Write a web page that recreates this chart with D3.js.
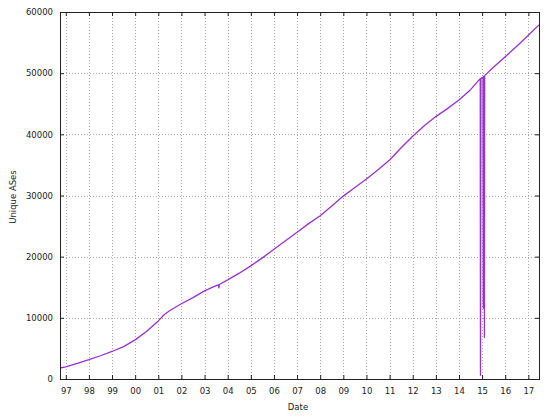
<!DOCTYPE html>
<html>
<head>
<meta charset="utf-8">
<script src="https://cdn.jsdelivr.net/npm/d3@7"></script>
<style>
  body { margin: 0; background: #fff; }
  text { font-family: "DejaVu Sans", sans-serif; font-size: 8.5px; fill: #222; }
</style>
</head>
<body>
<script>
// decimal year / unique ASes
const dates = [1996.75, 1997.0, 1997.5, 1998.0, 1998.5, 1999.0, 1999.5, 2000.0, 2000.5, 2001.0,
  2001.25, 2001.5, 2002.0, 2002.5, 2003.0, 2003.4, 2003.6, 2003.62, 2003.64, 2004.0,
  2004.5, 2005.0, 2005.5, 2006.0, 2006.5, 2007.0, 2007.5, 2008.0, 2008.5, 2009.0,
  2009.5, 2010.0, 2010.5, 2011.0, 2011.5, 2012.0, 2012.5, 2013.0, 2013.5, 2014.0,
  2014.5, 2014.92, 2014.93, 2014.95, 2015.04, 2015.05, 2015.06, 2015.09, 2015.1, 2015.11,
  2015.5, 2016.0, 2016.5, 2017.0, 2017.46]
const ases = [1800, 2000, 2550, 3150, 3800, 4500, 5300, 6400, 7800, 9500,
  10500, 11200, 12300, 13300, 14400, 15100, 15400, 14900, 15450, 16200,
  17300, 18500, 19800, 21200, 22600, 24000, 25400, 26700, 28300, 29900,
  31300, 32700, 34200, 35800, 37800, 39700, 41400, 42900, 44200, 45600,
  47300, 49100, 600, 49150, 49350, 11600, 49400, 49500, 6800, 49600,
  51000, 52700, 54400, 56200, 57900]

const yearTicks = d3.range(1997, 2018)
const yTicks = [0, 10000, 20000, 30000, 40000, 50000, 60000]

const width = 550, height = 419
const margin = {top: 12, right: 11, bottom: 40, left: 60}
const lineColor = "#9632d2"

const svg = d3.select("body").append("svg")
    .attr("width", width)
    .attr("height", height)

const x = d3.scaleLinear()
    .domain([1996.75, 2017.46])
    .range([margin.left, width - margin.right])

const y = d3.scaleLinear()
    .domain([0, 60000])
    .range([height - margin.bottom, margin.top])

// grid
svg.append("g")
    .attr("stroke", "#a8a8a8")
    .attr("stroke-dasharray", "1,2")
    .selectAll("line")
    .data(yearTicks)
    .join("line")
    .attr("x1", d => Math.round(x(d)) + 0.5)
    .attr("x2", d => Math.round(x(d)) + 0.5)
    .attr("y1", y(0))
    .attr("y2", y(60000))

svg.append("g")
    .attr("stroke", "#a8a8a8")
    .attr("stroke-dasharray", "1,2")
    .selectAll("line")
    .data(yTicks.slice(1, -1))
    .join("line")
    .attr("x1", x.range()[0])
    .attr("x2", x.range()[1])
    .attr("y1", d => Math.round(y(d)) + 0.5)
    .attr("y2", d => Math.round(y(d)) + 0.5)

// data line
const pts = dates.map((d, i) => [d, ases[i]])
svg.append("path")
    .datum(pts)
    .attr("fill", "none")
    .attr("stroke", lineColor)
    .attr("stroke-width", 1.3)
    .attr("stroke-linejoin", "round")
    .attr("d", d3.line().x(d => x(d[0])).y(d => y(d[1])))

// axes: ticks inward, mirrored on top and right
const fmtYear = d => String(d % 100).padStart(2, "0")

const xAxis = svg.append("g")
    .attr("transform", `translate(0,${y(0)})`)
    .call(d3.axisBottom(x).tickValues(yearTicks).tickFormat(fmtYear).tickSizeInner(-4).tickSizeOuter(0).tickPadding(9))
xAxis.select(".domain").remove()

const xTop = svg.append("g")
    .attr("transform", `translate(0,${y(60000)})`)
    .call(d3.axisTop(x).tickValues(yearTicks).tickFormat("").tickSizeInner(-4).tickSizeOuter(0))
xTop.select(".domain").remove()

const yAxis = svg.append("g")
    .attr("transform", `translate(${x.range()[0]},0)`)
    .call(d3.axisLeft(y).tickValues(yTicks).tickFormat(d3.format("d")).tickSizeInner(-4).tickSizeOuter(0).tickPadding(7))
yAxis.select(".domain").remove()

const yRight = svg.append("g")
    .attr("transform", `translate(${x.range()[1]},0)`)
    .call(d3.axisRight(y).tickValues(yTicks).tickFormat("").tickSizeInner(-4).tickSizeOuter(0))
yRight.select(".domain").remove()

svg.selectAll(".tick line").attr("stroke", "#222")
svg.selectAll(".tick text").attr("font-size", null).attr("font-family", null).attr("fill", "#222")

// frame
svg.append("rect")
    .attr("x", x.range()[0] + 0.5)
    .attr("y", y(60000) + 0.5)
    .attr("width", x.range()[1] - x.range()[0])
    .attr("height", y(0) - y(60000))
    .attr("fill", "none")
    .attr("stroke", "#222")

// axis titles
svg.append("text")
    .attr("x", 298)
    .attr("y", 410)
    .attr("text-anchor", "middle")
    .text("Date")

svg.append("text")
    .attr("transform", "translate(16,197) rotate(-90)")
    .attr("text-anchor", "middle")
    .text("Unique ASes")
</script>
</body>
</html>
